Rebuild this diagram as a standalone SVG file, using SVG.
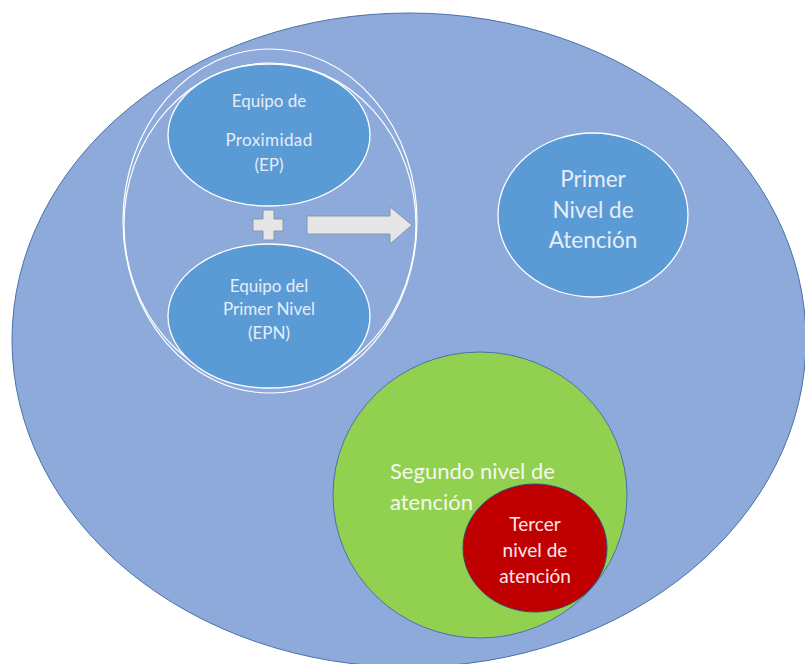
<svg xmlns="http://www.w3.org/2000/svg" width="805" height="664" viewBox="0 0 805 664">
<style>
.t{font-family:Lato,"Open Sans","Liberation Sans",sans-serif;text-anchor:middle;fill:#e6edf8}
.s{font-size:17px}
.m{font-size:22.5px}
.w{fill:none;stroke:#ffffff;stroke-width:1.2}
.node{fill:#5b9bd5;stroke:#ffffff;stroke-width:1.3}
.shape{fill:#e7e6e6;stroke:#8497b0;stroke-width:1}
</style>
<rect width="805" height="664" fill="#ffffff"/>
<g id="outer">
<ellipse cx="409" cy="340" rx="397" ry="327" fill="#8eaadb" stroke="#4a72a8" stroke-width="1"/>
</g>
<g id="group-equipos">
<ellipse class="w" cx="270" cy="221" rx="147" ry="172"/>
<ellipse class="w" cx="270" cy="225" rx="146" ry="162"/>
</g>
<g id="ep">
<ellipse class="node" cx="269" cy="135" rx="101" ry="71"/>
<text class="t s" x="269" y="107">Equipo de</text>
<text class="t s" x="269" y="146" letter-spacing="0.4">Proximidad</text>
<text class="t s" x="269" y="171">(EP)</text>
</g>
<g id="epn">
<ellipse class="node" cx="269" cy="316" rx="101" ry="72"/>
<text class="t s" x="269" y="292">Equipo del</text>
<text class="t s" x="269" y="315">Primer Nivel</text>
<text class="t s" x="269" y="339">(EPN)</text>
</g>
<g id="plus">
<path class="shape" d="M263 210 H274 V219 H283 V231 H274 V240 H263 V231 H253 V219 H263 Z"/>
</g>
<g id="connectors">
<path class="shape" d="M307 216 H390 V207 L412 225 L390 244 V234 H307 Z"/>
</g>
<g id="primer-nivel">
<ellipse class="node" cx="593" cy="215" rx="95" ry="82"/>
<text class="t m" x="593" y="187">Primer</text>
<text class="t m" x="593" y="218">Nivel de</text>
<text class="t m" x="593" y="248">Atención</text>
</g>
<g id="segundo-nivel">
<ellipse cx="480" cy="495" rx="147" ry="143" fill="#92d050" stroke="#4a72a8" stroke-width="1"/>
<text x="390" y="479" font-family="Lato,'Open Sans','Liberation Sans',sans-serif" font-size="22" fill="#f4f8ee">Segundo nivel de</text>
<text x="390" y="510" font-family="Lato,'Open Sans','Liberation Sans',sans-serif" font-size="22" fill="#f4f8ee">atención</text>
</g>
<g id="tercer-nivel">
<ellipse cx="535" cy="548" rx="72" ry="64" fill="#c00000" stroke="#2f4f7f" stroke-width="1"/>
<text class="t" x="535" y="531" font-size="19" style="fill:#fbe6e6">Tercer</text>
<text class="t" x="535" y="557" font-size="19" style="fill:#fbe6e6">nivel de</text>
<text class="t" x="535" y="583" font-size="19" style="fill:#fbe6e6">atención</text>
</g>
</svg>
